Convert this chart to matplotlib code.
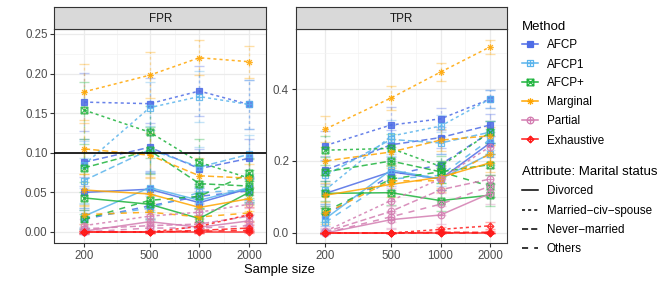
import numpy as np
import matplotlib
matplotlib.use("Agg")
import matplotlib.pyplot as plt
from matplotlib.path import Path
from matplotlib.lines import Line2D
from matplotlib.ticker import FixedLocator, NullFormatter

plt.rcParams["font.family"] = ["Liberation Sans", "DejaVu Sans"]

SAMPLE_SIZES = [200, 500, 1000, 2000]
METHODS = ["AFCP", "AFCP1", "AFCP+", "Marginal", "Partial", "Exhaustive"]
ATTRIBUTES = ["Divorced", "Married\u2212civ\u2212spouse", "Never\u2212married", "Others"]

# rows follow ATTRIBUTES: Divorced, Married-civ-spouse, Never-married, Others
FPR_AFCP = [[0.050, 0.054, 0.037, 0.055], [0.164, 0.162, 0.178, 0.161],
            [0.088, 0.107, 0.080, 0.093], [0.016, 0.033, 0.045, 0.052]]
FPR_AFCP1 = [[0.020, 0.056, 0.040, 0.056], [0.085, 0.157, 0.171, 0.161],
             [0.065, 0.104, 0.082, 0.098], [0.018, 0.030, 0.050, 0.053]]
FPR_AFCPP = [[0.043, 0.035, 0.017, 0.050], [0.154, 0.126, 0.088, 0.068],
             [0.081, 0.103, 0.061, 0.058], [0.016, 0.040, 0.045, 0.074]]
FPR_MARG = [[0.053, 0.048, 0.031, 0.042], [0.177, 0.198, 0.220, 0.215],
            [0.105, 0.097, 0.071, 0.068], [0.022, 0.025, 0.019, 0.024]]
FPR_PART = [[0.001, 0.013, 0.006, 0.014], [0.008, 0.020, 0.025, 0.035],
            [0.004, 0.008, 0.010, 0.020], [0.000, 0.005, 0.005, 0.008]]
FPR_EXH = [[0.000, 0.000, 0.000, 0.000], [0.000, 0.000, 0.007, 0.022],
           [0.000, 0.000, 0.002, 0.005], [0.000, 0.000, 0.001, 0.002]]

FPR_AFCP_ERR = [[0.020, 0.020, 0.015, 0.015], [0.037, 0.033, 0.032, 0.031],
                [0.030, 0.030, 0.025, 0.025], [0.012, 0.015, 0.015, 0.015]]
FPR_AFCP1_ERR = [[0.015, 0.020, 0.015, 0.015], [0.030, 0.033, 0.032, 0.031],
                 [0.028, 0.030, 0.025, 0.025], [0.012, 0.015, 0.015, 0.015]]
FPR_AFCPP_ERR = [[0.020, 0.018, 0.012, 0.015], [0.036, 0.033, 0.030, 0.025],
                 [0.030, 0.030, 0.022, 0.020], [0.012, 0.015, 0.015, 0.018]]
FPR_MARG_ERR = [[0.020, 0.020, 0.015, 0.015], [0.035, 0.029, 0.022, 0.020],
                [0.032, 0.028, 0.022, 0.018], [0.012, 0.012, 0.010, 0.010]]
FPR_PART_ERR = [[0.004, 0.010, 0.006, 0.008], [0.008, 0.012, 0.012, 0.012],
                [0.006, 0.008, 0.008, 0.010], [0.002, 0.005, 0.005, 0.006]]
FPR_EXH_ERR = [[0.001, 0.001, 0.001, 0.001], [0.001, 0.001, 0.006, 0.010],
               [0.001, 0.001, 0.003, 0.004], [0.001, 0.001, 0.002, 0.002]]

TPR_AFCP = [[0.110, 0.170, 0.150, 0.250], [0.243, 0.300, 0.317, 0.372],
            [0.175, 0.245, 0.265, 0.300], [0.050, 0.160, 0.190, 0.280]]
TPR_AFCP1 = [[0.040, 0.175, 0.150, 0.220], [0.120, 0.269, 0.297, 0.372],
             [0.160, 0.260, 0.250, 0.280], [0.030, 0.150, 0.160, 0.260]]
TPR_AFCPP = [[0.110, 0.112, 0.090, 0.105], [0.230, 0.235, 0.185, 0.280],
             [0.170, 0.200, 0.170, 0.190], [0.060, 0.150, 0.170, 0.130]]
TPR_MARG = [[0.105, 0.135, 0.155, 0.195], [0.289, 0.375, 0.447, 0.517],
            [0.200, 0.225, 0.258, 0.270], [0.055, 0.145, 0.145, 0.220]]
TPR_PART = [[0.000, 0.037, 0.050, 0.110], [0.005, 0.090, 0.150, 0.240],
            [0.003, 0.060, 0.120, 0.150], [0.000, 0.045, 0.080, 0.130]]
TPR_EXH = [[0.000, 0.000, 0.000, 0.000], [0.000, 0.000, 0.010, 0.020],
           [0.000, 0.000, 0.002, 0.002], [0.000, 0.000, 0.000, 0.000]]

TPR_AFCP_ERR = [[0.035, 0.040, 0.030, 0.030], [0.040, 0.050, 0.030, 0.025],
                [0.040, 0.040, 0.030, 0.030], [0.030, 0.040, 0.030, 0.030]]
TPR_AFCP1_ERR = [[0.030, 0.040, 0.030, 0.030], [0.040, 0.045, 0.030, 0.025],
                 [0.040, 0.040, 0.030, 0.030], [0.025, 0.040, 0.030, 0.030]]
TPR_AFCPP_ERR = [[0.035, 0.035, 0.030, 0.030], [0.040, 0.040, 0.030, 0.030],
                 [0.040, 0.040, 0.030, 0.030], [0.030, 0.035, 0.030, 0.030]]
TPR_MARG_ERR = [[0.035, 0.035, 0.030, 0.025], [0.036, 0.032, 0.025, 0.019],
                [0.040, 0.035, 0.030, 0.025], [0.030, 0.035, 0.030, 0.025]]
TPR_PART_ERR = [[0.003, 0.025, 0.025, 0.030], [0.008, 0.035, 0.030, 0.030],
                [0.006, 0.030, 0.030, 0.030], [0.003, 0.030, 0.030, 0.030]]
TPR_EXH_ERR = [[0.001, 0.001, 0.001, 0.001], [0.001, 0.001, 0.008, 0.010],
               [0.001, 0.001, 0.003, 0.003], [0.001, 0.001, 0.001, 0.001]]

FPR_DATA = [FPR_AFCP, FPR_AFCP1, FPR_AFCPP, FPR_MARG, FPR_PART, FPR_EXH]
FPR_ERRS = [FPR_AFCP_ERR, FPR_AFCP1_ERR, FPR_AFCPP_ERR, FPR_MARG_ERR, FPR_PART_ERR, FPR_EXH_ERR]
TPR_DATA = [TPR_AFCP, TPR_AFCP1, TPR_AFCPP, TPR_MARG, TPR_PART, TPR_EXH]
TPR_ERRS = [TPR_AFCP_ERR, TPR_AFCP1_ERR, TPR_AFCPP_ERR, TPR_MARG_ERR, TPR_PART_ERR, TPR_EXH_ERR]

COLORS = ["#4E6CE6", "#5AB4EC", "#1DB33C", "#FFA500", "#D37DB1", "#FF1A1A"]
DASHES = ["-", (0, (2, 2)), (0, (4, 2)), (0, (4, 4))]

# ggplot-like point shapes
M, L, C = Path.MOVETO, Path.LINETO, Path.CLOSEPOLY
_sq = Path([(-1, -1), (1, -1), (1, 1), (-1, 1), (-1, -1)], [M, L, L, L, C])
_plus = Path([(-1, 0), (1, 0), (0, -1), (0, 1)], [M, L, M, L])
_x = Path([(-1, -1), (1, 1), (-1, 1), (1, -1)], [M, L, M, L])
_x7 = Path([(-.72, -.72), (.72, .72), (-.72, .72), (.72, -.72)], [M, L, M, L])
_dia = Path([(0, -1.3), (1.3, 0), (0, 1.3), (-1.3, 0), (0, -1.3)], [M, L, L, L, C])
_plus13 = Path([(-1.3, 0), (1.3, 0), (0, -1.3), (0, 1.3)], [M, L, M, L])
MARKERS = [
    "s",
    Path.make_compound_path(_sq, _plus),
    Path.make_compound_path(_sq, _x),
    Path.make_compound_path(_plus, _x7),
    Path.make_compound_path(Path.unit_circle(), _plus),
    Path.make_compound_path(_dia, _plus13),
]

FG = "#4D4D4D"
W, H = 664, 285
fig = plt.figure(figsize=(W / 100, H / 100), dpi=100)


def px(l, t, r, b):
    return [l / W, 1 - b / H, (r - l) / W, (b - t) / H]


def draw_panel(rect, strip_title, data, errs, ylim, yticks, yminor, ylabels):
    ax = fig.add_axes(px(*rect))
    ax.set_xscale("log")
    ax.set_xlim(132.4, 2535)
    ax.set_ylim(*ylim)
    ax.set_xticks(SAMPLE_SIZES)
    ax.set_xticklabels([str(s) for s in SAMPLE_SIZES])
    ax.xaxis.set_minor_locator(FixedLocator([316.2, 707.1, 1414.2]))
    ax.xaxis.set_minor_formatter(NullFormatter())
    ax.set_yticks(yticks)
    ax.set_yticklabels(ylabels)
    ax.yaxis.set_minor_locator(FixedLocator(yminor))
    ax.grid(True, which="major", color="#EBEBEB", lw=0.9, zorder=0)
    ax.grid(True, which="minor", color="#F3F3F3", lw=0.5, zorder=0)
    ax.set_axisbelow(True)
    ax.tick_params(which="major", length=3, width=0.8, color="#333333",
                   labelsize=8.3, labelcolor=FG, pad=2)
    ax.tick_params(which="minor", length=0)
    for sp in ax.spines.values():
        sp.set_color("#333333")
        sp.set_linewidth(0.8)

    for mi in range(len(METHODS)):
        for ai in range(len(ATTRIBUTES)):
            y = data[mi][ai]
            e = errs[mi][ai]
            eb = ax.errorbar(SAMPLE_SIZES, y, yerr=e, fmt="none", ecolor=COLORS[mi],
                             alpha=0.35, capsize=3.5, elinewidth=1.0, capthick=1.0, zorder=2)
            eb[2][0].set_linestyle(DASHES[ai])
            filled = mi == 0
            ax.plot(SAMPLE_SIZES, y, color=COLORS[mi], ls=DASHES[ai], lw=1.1, alpha=0.85,
                    marker=MARKERS[mi], ms=4.8 if mi != 0 else 4.5,
                    mfc=COLORS[mi] if filled else "none", mew=0.9, zorder=3)

    strip = fig.add_axes(px(rect[0], 7, rect[2], rect[1]))
    strip.set_facecolor("#D9D9D9")
    strip.set_xticks([])
    strip.set_yticks([])
    for sp in strip.spines.values():
        sp.set_color("#333333")
        sp.set_linewidth(0.8)
    strip.text(0.5, 0.45, strip_title, ha="center", va="center", fontsize=8.4, color="#1A1A1A")
    return ax


ax1 = draw_panel((54.5, 29, 266, 243), "FPR", FPR_DATA, FPR_ERRS, (-0.0139, 0.2563),
                 [0, 0.05, 0.10, 0.15, 0.20, 0.25], [0.025, 0.075, 0.125, 0.175, 0.225],
                 ["0.00", "0.05", "0.10", "0.15", "0.20", "0.25"])
ax1.axhline(0.1, color="black", lw=1.2, zorder=4)

ax2 = draw_panel((296, 29, 507, 243), "TPR", TPR_DATA, TPR_ERRS, (-0.0278, 0.5667),
                 [0, 0.2, 0.4], [0.1, 0.3, 0.5], ["0.0", "0.2", "0.4"])

fig.text(280 / W, 1 - 270 / H, "Sample size", ha="center", va="center", fontsize=9.4)

method_handles = [
    Line2D([], [], color=COLORS[i], lw=1.1, marker=MARKERS[i], ms=4.8,
           mfc=COLORS[i] if i == 0 else "none", mew=0.9)
    for i in range(len(METHODS))
]
leg1 = fig.legend(method_handles, METHODS, title="Method", loc="upper left",
                  bbox_to_anchor=(522 / W, 1 - 20.5 / H), frameon=False, fontsize=8.4,
                  title_fontsize=9.5, handlelength=1.37, handletextpad=0.77,
                  labelspacing=0.6, alignment="left", borderaxespad=0, borderpad=0)

attr_handles = [Line2D([], [], color="black", lw=1.1, ls=DASHES[i]) for i in range(len(ATTRIBUTES))]
leg2 = fig.legend(attr_handles, ATTRIBUTES, title="Attribute: Marital status", loc="upper left",
                  bbox_to_anchor=(522 / W, 1 - 166 / H), frameon=False, fontsize=8.4,
                  title_fontsize=9.5, handlelength=1.37, handletextpad=0.77,
                  labelspacing=0.63, alignment="left", borderaxespad=0, borderpad=0)

fig.savefig("out.png", dpi=100)
